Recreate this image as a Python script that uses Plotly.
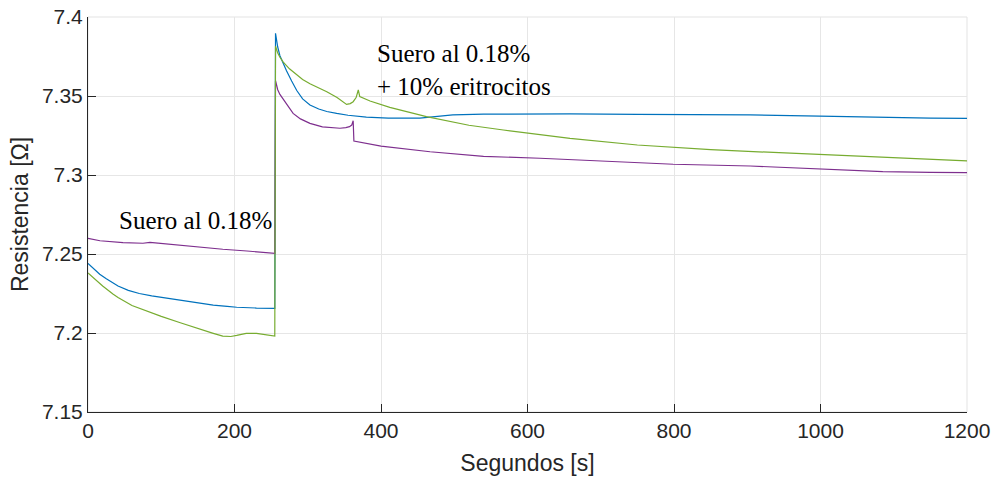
import plotly.graph_objects as go

# Time (s) and resistance (ohm) for each measurement run
t_blue = [0, 5, 10, 16, 25, 34, 41, 55, 70, 87, 105, 132, 150, 171, 190, 203, 230, 255,
          256, 257, 259, 262, 266.6, 271, 278, 285, 293, 303, 315, 326, 339.5, 355, 380, 410, 453,
          475, 498, 540, 600, 658, 750, 850, 904, 999, 1085, 1150, 1200]
r_blue = [7.2441, 7.2418, 7.2396, 7.2372, 7.2343, 7.2316, 7.2297, 7.2270, 7.2250, 7.2235, 7.2222, 7.2203, 7.2190, 7.2177, 7.2168, 7.2163, 7.2158, 7.2156,
          7.3897, 7.3860, 7.3810, 7.3755, 7.3700, 7.3660, 7.3595, 7.3535, 7.3482, 7.3443, 7.3418, 7.3402, 7.3390, 7.3378, 7.3366, 7.3360, 7.3360,
          7.3370, 7.3380, 7.3385, 7.3387, 7.3387, 7.3384, 7.3382, 7.3380, 7.3373, 7.3363, 7.3360, 7.3359]

t_purple = [0, 16.4, 47.8, 75, 84.6, 98.3, 139, 184, 217, 255,
            256, 257, 259, 262, 266.6, 271, 276, 280, 290, 303, 320, 335, 344, 352, 357, 360, 362,
            363, 400, 467, 540, 617, 700, 799, 904, 999, 1085, 1150, 1200]
r_purple = [7.2599, 7.2584, 7.2572, 7.2568, 7.2574, 7.2568, 7.2546, 7.2530, 7.2519, 7.2504,
            7.3597, 7.3575, 7.3540, 7.3510, 7.3480, 7.3445, 7.3412, 7.3390, 7.3355, 7.3327, 7.3305, 7.3298, 7.3296, 7.3300, 7.3306, 7.3316, 7.3344,
            7.3215, 7.3183, 7.3147, 7.3118, 7.3106, 7.3088, 7.3068, 7.3057, 7.3038, 7.3021, 7.3017, 7.3015]

t_green = [0, 5, 10, 20, 34, 41, 60, 80, 100, 126, 150, 171, 184, 195, 203, 216, 230, 243, 255,
           256, 257, 259, 262, 266.6, 275, 285, 293, 303, 315, 326, 340, 353, 358, 362, 366, 369,
           371, 385, 412, 462, 520, 567, 658, 750, 850, 999, 1085, 1150, 1200]
r_green = [7.2380, 7.2358, 7.2337, 7.2298, 7.2247, 7.2224, 7.2174, 7.2137, 7.2105, 7.2065, 7.2027, 7.1998, 7.1980, 7.1978, 7.1985, 7.1998, 7.1997, 7.1991, 7.1981,
           7.3815, 7.3797, 7.3772, 7.3745, 7.3715, 7.3672, 7.3633, 7.3605, 7.3578, 7.3552, 7.3527, 7.3490, 7.3447, 7.3452, 7.3464, 7.3490, 7.3538,
           7.3496, 7.3468, 7.3428, 7.3369, 7.3315, 7.3285, 7.3232, 7.3190, 7.3160, 7.3131, 7.3110, 7.3098, 7.3089]

x_ticks = [0, 200, 400, 600, 800, 1000, 1200]
y_ticks = [7.15, 7.2, 7.25, 7.3, 7.35, 7.4]
y_tick_text = ["7.15", "7.2", "7.25", "7.3", "7.35", "7.4"]

fig = go.Figure()
fig.add_trace(go.Scatter(x=t_blue, y=r_blue, mode="lines",
                         line=dict(color="#0072BD", width=1.2), showlegend=False))
fig.add_trace(go.Scatter(x=t_purple, y=r_purple, mode="lines",
                         line=dict(color="#7E2F8E", width=1.2), showlegend=False))
fig.add_trace(go.Scatter(x=t_green, y=r_green, mode="lines",
                         line=dict(color="#77AC30", width=1.2), showlegend=False))

serif = dict(family="Liberation Serif, Times New Roman, serif", size=25, color="#000000")
fig.add_annotation(x=40, y=7.2715, text="Suero al 0.18%", showarrow=False,
                   xanchor="left", yanchor="middle", font=serif)
fig.add_annotation(x=392, y=7.3665, text="Suero al 0.18%<br>+ 10% eritrocitos", showarrow=False,
                   xanchor="left", yanchor="middle", align="left", font=serif)

# light frame on the top and right edges
fig.add_shape(type="rect", xref="paper", yref="paper", x0=0, x1=1, y0=0, y1=1,
              line=dict(color="#e3e3e3", width=1), layer="below")

sans = "Liberation Sans, Arial, sans-serif"
fig.update_xaxes(range=[0, 1200], tickvals=x_ticks, showgrid=True, gridcolor="#e6e6e6",
                 showline=True, linecolor="#262626", linewidth=1, zeroline=False,
                 ticks="inside", ticklen=8, tickcolor="#262626",
                 tickfont=dict(family=sans, size=21, color="#262626"),
                 title=dict(text="Segundos [s]", font=dict(family=sans, size=23, color="#262626"), standoff=13))
fig.update_yaxes(range=[7.15, 7.4], tickvals=y_ticks, ticktext=y_tick_text, showgrid=True, gridcolor="#e6e6e6",
                 showline=True, linecolor="#262626", linewidth=1, zeroline=False,
                 ticks="inside", ticklen=8, tickcolor="#262626",
                 tickfont=dict(family=sans, size=21, color="#262626"),
                 title=dict(text="Resistencia [Ω]", font=dict(family=sans, size=23, color="#262626"), standoff=6))

fig.update_layout(width=994, height=481, margin=dict(l=88, r=27, t=17, b=69, autoexpand=False),
                  plot_bgcolor="white", paper_bgcolor="white")

fig.write_html("out.html")
